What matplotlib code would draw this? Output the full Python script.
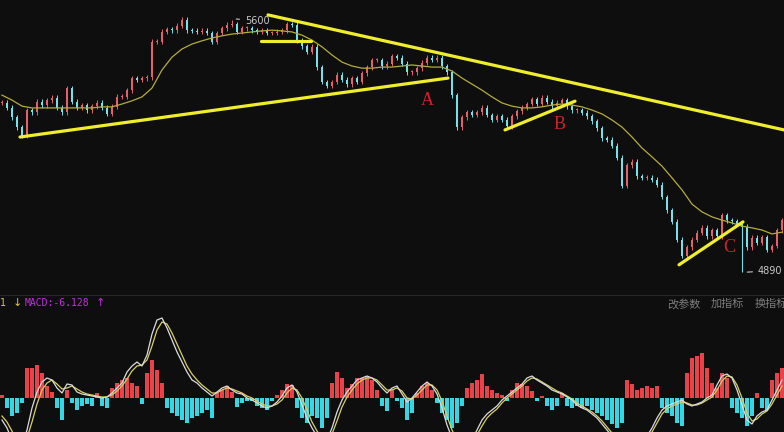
import matplotlib.pyplot as plt
import numpy as np

plt.rcParams['font.family'] = ['DejaVu Sans']

BG = '#0e0e0e'
UP = '#e6606c'
DOWN = '#74e2e8'
TREND = '#f0ee2c'

# ── price data (one candle per session, close prices) ───────────────────────
closes = [5366, 5352, 5326, 5298, 5273, 5346, 5340, 5369, 5360, 5374,
          5380, 5352, 5340, 5408, 5369, 5352, 5360, 5346, 5357, 5366,
          5352, 5335, 5355, 5383, 5383, 5402, 5436, 5431, 5436, 5439,
          5538, 5538, 5566, 5574, 5571, 5583, 5600, 5571, 5569, 5566,
          5569, 5563, 5538, 5563, 5577, 5586, 5588, 5566, 5577, 5577,
          5571, 5566, 5569, 5563, 5563, 5566, 5571, 5588, 5586, 5543,
          5526, 5510, 5524, 5467, 5425, 5414, 5425, 5445, 5431, 5419,
          5436, 5425, 5450, 5467, 5487, 5487, 5470, 5476, 5498, 5493,
          5476, 5453, 5453, 5464, 5479, 5493, 5487, 5493, 5470, 5453,
          5388, 5298, 5326, 5340, 5332, 5340, 5352, 5332, 5318, 5329,
          5318, 5301, 5329, 5343, 5352, 5363, 5377, 5363, 5380, 5369,
          5357, 5366, 5374, 5357, 5346, 5346, 5338, 5329, 5315, 5295,
          5267, 5262, 5245, 5211, 5132, 5191, 5200, 5160, 5155, 5155,
          5149, 5135, 5101, 5064, 5031, 4980, 4935, 4960, 4980, 5000,
          5014, 4991, 5008, 4991, 5050, 5036, 5033, 5025, 5017, 4960,
          4986, 4972, 4988, 4952, 4963, 5008, 5036]
spike_idx = [46, 148]
spike_val = [5600, 4890]

# moving average, sampled every second session
ma_vals = [5388, 5374, 5357, 5352, 5352, 5352, 5352, 5352, 5352, 5352,
           5355, 5355, 5363, 5372, 5383, 5408, 5459, 5495, 5518, 5532,
           5541, 5549, 5555, 5560, 5563, 5566, 5569, 5571, 5569, 5566,
           5557, 5543, 5524, 5501, 5481, 5470, 5464, 5464, 5467, 5467,
           5470, 5473, 5470, 5467, 5467, 5456, 5436, 5419, 5402, 5383,
           5366, 5357, 5352, 5352, 5355, 5360, 5363, 5360, 5355, 5346,
           5335, 5318, 5298, 5270, 5239, 5214, 5188, 5155, 5121, 5081,
           5059, 5045, 5036, 5028, 5019, 5014, 5008, 4997, 5002]

# hand-drawn trend lines: (x0, y0, x1, y1) in session / price units
trend_lines = [(3.6, 5270, 89.2, 5436),
               (53.2, 5614, 159.6, 5280),
               (51.8, 5540, 61.8, 5540),
               (100.6, 5290, 114.6, 5371),
               (135.4, 4910, 148.2, 5031)]
marks = ['A', 'B', 'C']
mark_x = [85.0, 111.6, 145.4]
mark_y = [5374, 5304, 4960]

# ── MACD data ────────────────────────────────────────────────────────────────
hist = [3, -10, -18, -15, -5, 30, 30, 33, 25, 12,
        6, -10, -22, 8, -5, -12, -8, -6, -8, 5,
        -8, -10, 10, 15, 18, 20, 15, 12, -6, 25,
        38, 28, 15, -10, -15, -18, -22, -25, -20, -18,
        -15, -12, -20, 5, 8, 12, 6, -9, -5, -3,
        -3, -8, -10, -12, -3, 3, 8, 14, 13, -10,
        -20, -25, -18, -20, -30, -20, 15, 26, 20, 10,
        14, 20, 20, 22, 18, 8, -8, -13, 8, -3,
        -10, -22, -15, 5, 12, 15, 8, -5, -15, -22,
        -30, -25, -8, 10, 15, 18, 24, 12, 8, 5,
        3, -3, 8, 15, 14, 12, 7, -3, 2, -8,
        -12, -8, 5, -8, -10, -8, -10, -8, -12, -15,
        -18, -22, -26, -30, -25, 18, 14, 8, 10, 12,
        10, 12, -10, -15, -18, -25, -28, 25, 40, 42,
        45, 30, 15, 10, 25, 20, -10, -15, -20, -28,
        -18, 5, -10, -12, 18, 25, 30]
dif = [-22, -30, -42, -52, -47, -32, -10, 6, 16, 20,
       18, 10, 5, 14, 13, 6, 4, 3, 2, 1,
       0, 1, 5, 10, 15, 26, 32, 36, 32, 43,
       64, 78, 80, 70, 58, 46, 36, 26, 18, 15,
       10, 6, 2, 6, 10, 12, 8, 5, 4, 0,
       -2, -5, -8, -10, -8, -4, 2, 10, 13, 6,
       -7, -20, -30, -38, -44, -42, -30, -14, -2, 6,
       12, 18, 20, 22, 20, 16, 10, 5, 10, 12,
       4, -4, 0, 6, 12, 16, 12, 4, -10, -27,
       -40, -47, -50, -47, -42, -32, -22, -16, -12, -8,
       -2, 2, 6, 10, 14, 20, 22, 18, 15, 12,
       8, 6, 4, 1, -2, -7, -10, -12, -16, -20,
       -26, -32, -38, -44, -48, -50, -52, -50, -46, -38,
       -30, -20, -12, -8, -6, -4, -2, -6, -8, -6,
       -4, 0, 3, 13, 22, 24, 20, 8, -7, -22,
       -26, -18, -14, -12, -2, 8, 18]
dea = [-18, -24, -33, -44, -48, -40, -24, -6, 8, 15,
       18, 14, 9, 10, 12, 9, 6, 4, 3, 2,
       1, 1, 3, 7, 12, 19, 27, 32, 33, 38,
       52, 68, 76, 74, 65, 54, 43, 32, 24, 18,
       13, 9, 5, 5, 8, 10, 9, 7, 5, 2,
       0, -3, -6, -8, -8, -6, -2, 5, 10, 8,
       0, -12, -24, -33, -40, -42, -36, -23, -9, 1,
       8, 14, 18, 20, 20, 18, 13, 8, 8, 10,
       7, 0, -1, 3, 8, 13, 13, 8, -3, -18,
       -32, -42, -47, -48, -45, -37, -28, -20, -15, -11,
       -5, 0, 4, 8, 12, 17, 20, 19, 16, 13,
       10, 7, 5, 2, -1, -5, -8, -11, -14, -18,
       -23, -29, -35, -41, -46, -49, -51, -51, -48, -42,
       -34, -25, -16, -11, -8, -6, -4, -5, -7, -7,
       -5, -2, 1, 8, 17, 22, 21, 13, 0, -15,
       -23, -21, -16, -13, -6, 3, 12]

closes = np.array(closes, dtype=float)
opens = np.r_[closes[0], closes[:-1]]
idx = np.arange(len(closes))
ma_idx = np.arange(0, len(closes), 2)[:len(ma_vals)]

fig = plt.figure(figsize=(7.84, 4.32), dpi=100)
fig.patch.set_facecolor(BG)

# ── price panel ──────────────────────────────────────────────────────────────
ax = fig.add_axes([0, 139 / 432, 1, 293 / 432])
ax.set_facecolor(BG)
up = closes >= opens
colors = np.where(up, UP, DOWN)
lo = np.minimum(opens, closes)
hi = np.maximum(opens, closes)
ax.vlines(idx, lo - 7, hi + 7, colors=colors, linewidth=0.7, zorder=2)
ax.bar(idx, np.maximum(hi - lo, 2), bottom=lo, width=0.5, color=colors,
       linewidth=0, zorder=3)
for i, v in zip(spike_idx, spike_val):
    ax.vlines(i, min(v, lo[i]), max(v, hi[i]), colors=colors[i], linewidth=0.8, zorder=2)

ax.plot(ma_idx, ma_vals, color='#b4ac3c', linewidth=0.9, zorder=4)

for x0, y0, x1, y1 in trend_lines:
    ax.plot([x0, x1], [y0, y1], color=TREND, linewidth=2.3,
            solid_capstyle='round', zorder=5)

for m, x, y in zip(marks, mark_x, mark_y):
    ax.text(x, y, m, color='#d0202a', fontsize=13, ha='center', va='center',
            family='Liberation Serif', zorder=6)

ax.annotate('5600', xy=(46.3, 5603), xytext=(48.6, 5598), color='#c8c8c8',
            fontsize=7, va='center', ha='left',
            arrowprops=dict(arrowstyle='-', color='#c8c8c8', lw=0.8))
ax.annotate('4890', xy=(148.5, 4889), xytext=(151.2, 4893), color='#c8c8c8',
            fontsize=7, va='center', ha='left',
            arrowprops=dict(arrowstyle='-', color='#c8c8c8', lw=0.8))

ax.set_xlim(-0.4, 156.4)
ax.set_ylim(4830.6, 5656)
ax.axis('off')

# ── MACD panel ───────────────────────────────────────────────────────────────
ax2 = fig.add_axes([0, 0, 1, 139 / 432])
ax2.set_facecolor(BG)
hist = np.array(hist, dtype=float)
ax2.bar(idx, hist, width=0.8, color=np.where(hist >= 0, '#e8434a', '#36d6e2'),
        linewidth=0)
ax2.plot(idx, dea, color='#d8d060', linewidth=0.9)
ax2.plot(idx, dif, color='#dcdcdc', linewidth=0.9)
ax2.axhline(103, color='#262626', linewidth=0.8)
ax2.set_xlim(-0.4, 156.4)
ax2.set_ylim(-34, 105)
ax2.axis('off')

ax2.text(0.0, 0.928, '1', transform=ax2.transAxes, color='#d8c840',
         fontsize=7, family='DejaVu Sans Mono', va='center')
ax2.text(17 / 784, 0.928, '↓', transform=ax2.transAxes, color='#d8c840',
         fontsize=8, va='center', ha='center')
ax2.text(25 / 784, 0.928, 'MACD:-6.128', transform=ax2.transAxes, color='#c030e0',
         fontsize=7, family='DejaVu Sans Mono', va='center')
ax2.text(100 / 784, 0.928, '↑', transform=ax2.transAxes, color='#c030e0',
         fontsize=8, va='center', ha='center')
for label, xp in zip(['改参数', '加指标', '换指标'], [667, 711, 755]):
    ax2.text(xp / 784, 0.92, label, transform=ax2.transAxes, color='#7c7c7c',
             fontsize=8, family=['Noto Sans CJK SC', 'DejaVu Sans'], va='center')

fig.savefig('out.png', dpi=100, facecolor=BG)
